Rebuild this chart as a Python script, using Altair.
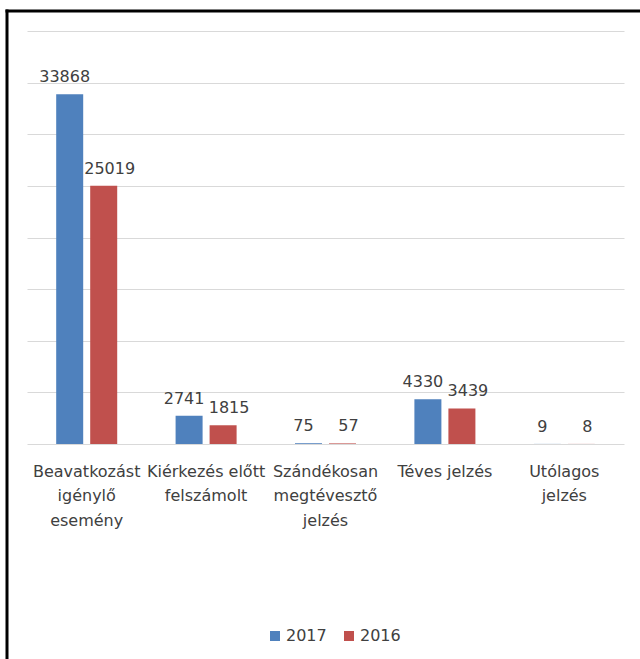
import altair as alt
import pandas as pd

categories = [
    "Beavatkozást\nigénylő\nesemény",
    "Kiérkezés előtt\nfelszámolt",
    "Szándékosan\nmegtévesztő\njelzés",
    "Téves jelzés",
    "Utólagos\njelzés",
]
years = ["2017", "2016"]
values_2017 = [33868, 2741, 75, 4330, 9]
values_2016 = [25019, 1815, 57, 3439, 8]
grid_values = [0, 5000, 10000, 15000, 20000, 25000, 30000, 35000, 40000]

rows = []
for c, v17, v16 in zip(categories, values_2017, values_2016):
    rows.append({"category": c, "year": "2017", "value": v17})
    rows.append({"category": c, "year": "2016", "value": v16})
df = pd.DataFrame(rows)

FONT = "DejaVu Sans"
TXT = "#404040"
FS = 16

x = alt.X(
    "category:N",
    sort=categories,
    scale=alt.Scale(paddingInner=0.489, paddingOuter=0.2445),
    axis=alt.Axis(
        title=None,
        labelExpr="split(datum.label, '\\n')",
        labelAngle=0,
        ticks=False,
        domain=False,
        grid=False,
        labelFont=FONT,
        labelFontSize=FS,
        labelColor=TXT,
        labelPadding=19,
        labelLineHeight=24.5,
        labelBaseline="top",
        labelLimit=300,
    ),
)
y = alt.Y(
    "value:Q",
    scale=alt.Scale(domain=[0, 40000], nice=False),
    axis=alt.Axis(
        title=None,
        labels=False,
        ticks=False,
        domain=False,
        values=grid_values,
        gridColor="#d9d9d9",
        gridWidth=1,
    ),
)
xo = alt.XOffset("year:N", sort=years, scale=alt.Scale(paddingInner=0.206, paddingOuter=0))
color = alt.Color(
    "year:N",
    sort=years,
    scale=alt.Scale(domain=years, range=["#4f81bd", "#c0504d"]),
    legend=alt.Legend(
        title=None,
        orient="none",
        legendX=240,
        legendY=597,
        direction="horizontal",
        symbolType="square",
        symbolSize=100,
        symbolStrokeWidth=0,
        labelFont=FONT,
        labelFontSize=FS,
        labelColor=TXT,
        labelOffset=3,
        columnPadding=14,
    ),
)

base = alt.Chart(df)
bars = base.mark_bar().encode(x=x, y=y, xOffset=xo, color=color)

lab17 = base.transform_filter(alt.datum.year == "2017").mark_text(
    dy=-12, dx=-5, baseline="alphabetic", font=FONT, fontSize=FS, color=TXT
).encode(x=x, y=y, xOffset=xo, text="value:Q")
lab16 = base.transform_filter(alt.datum.year == "2016").mark_text(
    dy=-12, dx=6, baseline="alphabetic", font=FONT, fontSize=FS, color=TXT
).encode(x=x, y=y, xOffset=xo, text="value:Q")

one = alt.Chart(pd.DataFrame({"k": [0]}))
left_border = one.mark_rule(color="black", strokeWidth=3).encode(
    x=alt.value(-20), y=alt.value(-21.5), y2=alt.value(640)
)
top_border = one.mark_rule(color="black", strokeWidth=3).encode(
    x=alt.value(-21.5), x2=alt.value(620), y=alt.value(-20)
)

chart = alt.layer(bars, lab17, lab16, left_border, top_border).properties(
    width=597,
    height=413,
    padding={"left": 27, "top": 31, "right": 16, "bottom": 215},
    autosize=alt.AutoSizeParams(type="none"),
    background="white",
).configure_view(stroke=None)

chart.save("out.html", embed_options={"renderer": "svg", "actions": False})
